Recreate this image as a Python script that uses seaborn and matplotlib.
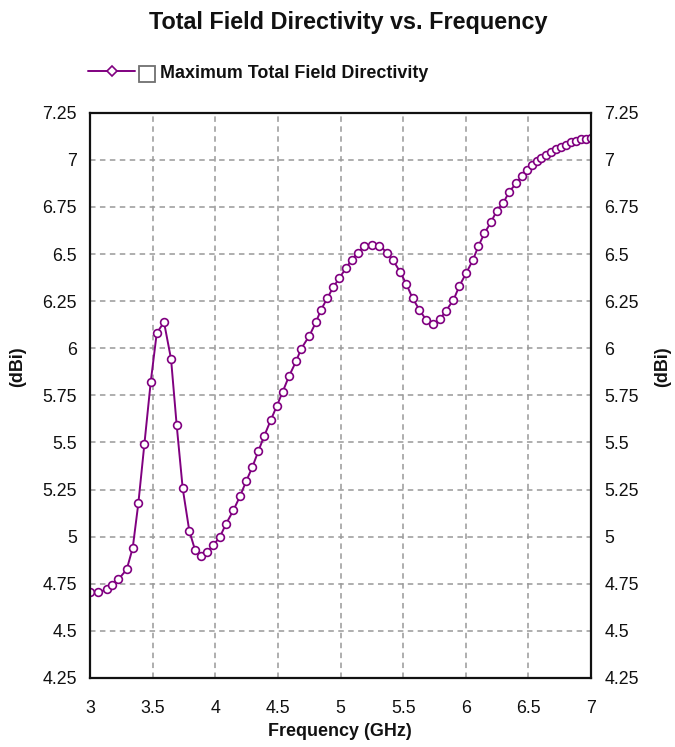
import matplotlib
matplotlib.use("Agg")
import matplotlib.pyplot as plt
import seaborn as sns
import pandas as pd
from matplotlib.ticker import FuncFormatter, MultipleLocator
from matplotlib.patches import Rectangle
from matplotlib.lines import Line2D

# ---- data ----
freq_ghz = [3.000, 3.066, 3.133, 3.178, 3.226, 3.293, 3.341, 3.386, 3.434, 3.485,
            3.533, 3.591, 3.647, 3.692, 3.740, 3.793, 3.839, 3.884, 3.937, 3.985,
            4.038, 4.086, 4.145, 4.198, 4.246, 4.296, 4.344, 4.390, 4.443, 4.491,
            4.539, 4.589, 4.645, 4.685, 4.752, 4.803, 4.845, 4.895, 4.943, 4.991,
            5.045, 5.090, 5.138, 5.191, 5.250, 5.311, 5.370, 5.418, 5.476, 5.524,
            5.575, 5.630, 5.684, 5.742, 5.796, 5.843, 5.902, 5.950, 6.003, 6.057,
            6.101, 6.149, 6.203, 6.248, 6.301, 6.346, 6.403, 6.450, 6.490, 6.530,
            6.566, 6.602, 6.642, 6.682, 6.722, 6.762, 6.802, 6.842, 6.882, 6.922,
            6.962, 7.000]
directivity_dbi = [4.705, 4.705, 4.720, 4.746, 4.773, 4.826, 4.940, 5.177, 5.490, 5.822,
                   6.081, 6.138, 5.943, 5.592, 5.257, 5.030, 4.929, 4.897, 4.918, 4.955,
                   5.000, 5.068, 5.140, 5.215, 5.293, 5.369, 5.454, 5.533, 5.618, 5.693,
                   5.770, 5.852, 5.930, 5.996, 6.067, 6.137, 6.205, 6.266, 6.325, 6.373,
                   6.426, 6.470, 6.508, 6.540, 6.549, 6.545, 6.508, 6.469, 6.405, 6.343,
                   6.266, 6.204, 6.150, 6.127, 6.155, 6.200, 6.256, 6.332, 6.398, 6.468,
                   6.542, 6.610, 6.671, 6.730, 6.772, 6.830, 6.875, 6.915, 6.945, 6.972,
                   6.992, 7.010, 7.027, 7.042, 7.056, 7.069, 7.081, 7.092, 7.101, 7.108,
                   7.113, 7.118]
series_label = "Maximum Total Field Directivity"
title_text = "Total Field Directivity vs. Frequency"
x_label = "Frequency (GHz)"
y_label = "(dBi)"

df = pd.DataFrame({"freq": freq_ghz, "dir": directivity_dbi})

sns.set_theme(style="white")
plt.rcParams["font.family"] = ["Liberation Sans", "DejaVu Sans"]

W, H = 675, 747
fig = plt.figure(figsize=(W / 100, H / 100), dpi=100)
fig.patch.set_facecolor("white")
ax = fig.add_axes([90 / W, 1 - 678 / H, (591 - 90) / W, (678 - 112.7) / H])
ax.set_facecolor("white")

purple = "#800080"
sns.lineplot(data=df, x="freq", y="dir", ax=ax, color=purple, linewidth=1.4,
             marker="o", markersize=5.6, markerfacecolor="white",
             markeredgecolor=purple, markeredgewidth=1.2, sort=False,
             legend=False)

ax.set_xlim(3, 7)
ax.set_ylim(4.25, 7.25)
ax.xaxis.set_major_locator(MultipleLocator(0.5))
ax.yaxis.set_major_locator(MultipleLocator(0.25))
fmt = FuncFormatter(lambda v, p: "%g" % round(v, 2))
ax.xaxis.set_major_formatter(fmt)
ax.yaxis.set_major_formatter(fmt)

ax.grid(True, color="#999999", linestyle=(0, (3.6, 2.9)), linewidth=1.1)
for s in ax.spines.values():
    s.set_visible(True)
    s.set_color("#111111")
    s.set_linewidth(1.6)

ax.tick_params(axis="x", length=0, pad=16, labelsize=12.8, colors="#111111")
ax.tick_params(axis="y", length=0, pad=9.5, labelsize=12.8, colors="#111111",
               labelleft=True, labelright=True)
ax.set_xlabel("")
ax.set_ylabel("")

fig.text(348 / W, 1 - 22 / H, title_text, ha="center", va="center",
         fontsize=16.8, fontweight="bold", color="#111111")
fig.text(340 / W, 1 - 731 / H, x_label, ha="center", va="center",
         fontsize=12.9, fontweight="bold", color="#111111")
fig.text(18 / W, 1 - 367 / H, y_label, ha="center", va="center", rotation=90,
         fontsize=12.9, fontweight="bold", color="#111111")
fig.text(663 / W, 1 - 367 / H, y_label, ha="center", va="center", rotation=90,
         fontsize=12.9, fontweight="bold", color="#111111")

# legend
fs_px = 17.9
handle = Line2D([], [], color=purple, linewidth=1.4, marker="D", markersize=5,
                markerfacecolor="white", markeredgecolor=purple, markeredgewidth=1.2)
fig.legend([handle], [series_label], loc="center left",
           bbox_to_anchor=(88 / W, 1 - 73 / H), frameon=False, borderpad=0,
           borderaxespad=0, handlelength=47 / fs_px, handletextpad=25 / fs_px,
           prop={"size": 12.9, "weight": "bold"}, labelcolor="#111111")
fig.add_artist(Rectangle((139 / W, 1 - 82 / H), 16 / W, 16 / H,
                         transform=fig.transFigure, facecolor="white",
                         edgecolor="#707070", linewidth=1.3))

fig.savefig("out.png", dpi=100)
